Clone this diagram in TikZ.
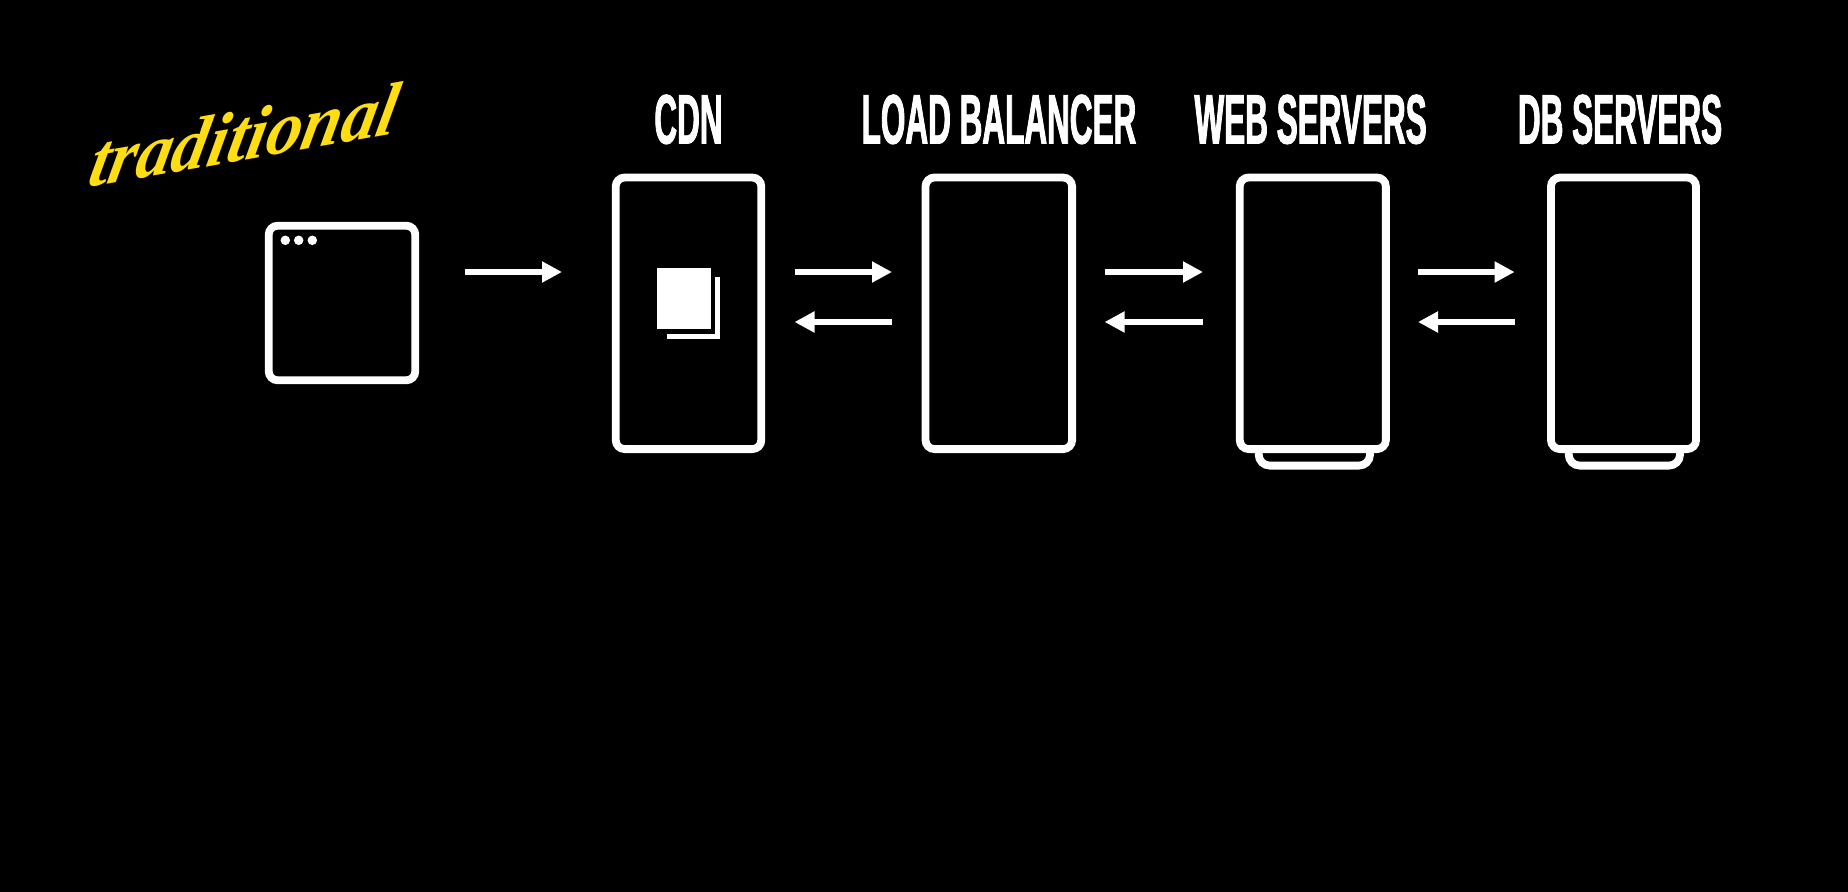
\documentclass[tikz,border=0pt]{standalone}
\usepackage{fontspec}
\usetikzlibrary{arrows.meta}
\newfontfamily\headfont[FakeStretch=0.45,FakeBold=1.2]{Liberation Sans}
\newfontfamily\tradfont[FakeSlant=0.4]{Liberation Serif}
\definecolor{tradyellow}{HTML}{FFDD14}
\tikzset{
  x=1pt,y=-1pt,
  panel/.style={draw=white,line width=7.8pt,rounded corners=9pt,inner sep=0pt,minimum width=#1,minimum height=271.6pt,fill=black},
  label/.style={text=white,anchor=base,inner sep=0pt,font=\headfont\bfseries\fontsize{70}{70}\selectfont},
  flow/.style={draw=white,line width=5.4pt,-{Triangle[length=20pt,width=20pt]}},
  foot/.style={draw=white,line width=7.8pt,rounded corners=11pt},
  sheet/.style={fill=white,draw=none,minimum width=54pt,minimum height=61pt,inner sep=0pt},
  dot/.style={circle,fill=white,draw=none,minimum size=9.5pt,inner sep=0pt}
}
\begin{document}
\begin{tikzpicture}
\useasboundingbox (0,0) rectangle (1848,891.4);
\fill[black] (-5,-5) rectangle (1853,897);

\node[anchor=base west,rotate=10,inner sep=0pt,text=tradyellow,font=\tradfont\bfseries\itshape\fontsize{72}{72}\selectfont] (trad) at (86,188) {traditional};

% browser
\node[draw=white,line width=7.8pt,rounded corners=9pt,inner sep=0pt,minimum width=146.6pt,minimum height=154.6pt] (browser) at (342,303) {};
\node[dot] (d1) at (285.3,240.3) {};
\node[dot] (d2) at (298.7,240.3) {};
\node[dot] (d3) at (312.3,240.3) {};

% feet
\coordinate (wf1) at (1258.7,450);
\coordinate (wf2) at (1258.7,465.6);
\coordinate (wf3) at (1370,465.6);
\coordinate (wf4) at (1370,450);
\draw[foot] (wf1) -- (wf2) -- (wf3) -- (wf4);
\coordinate (df1) at (1568.7,450);
\coordinate (df2) at (1568.7,465.6);
\coordinate (df3) at (1680,465.6);
\coordinate (df4) at (1680,450);
\draw[foot] (df1) -- (df2) -- (df3) -- (df4);

% panels
\node[panel=145.6pt] (cdn) at (688.5,313.3) {};
\node[panel=146.6pt] (lb) at (998.8,313.3) {};
\node[panel=146.1pt] (web) at (1312.8,313.3) {};
\node[panel=145.1pt] (db) at (1623.5,313.3) {};

% labels
\node[label] (lcdn) at (688.5,143.5) {CDN};
\node[label] (llb) at (999,143.5) {LOAD BALANCER};
\node[label] (lweb) at (1310.6,143.5) {WEB SERVERS};
\node[label] (ldb) at (1620,143.5) {DB SERVERS};

% document icon
\coordinate (bk1) at (667,336.5);
\coordinate (bk2) at (717.7,336.5);
\coordinate (bk3) at (717.7,277);
\draw[white,line width=5pt] (bk1) -- (bk2) -- (bk3);
\node[sheet] (doc) at (683.6,298.5) {};

% arrows
\coordinate (a1s) at (464.5,272); \coordinate (a1e) at (562,272);
\coordinate (a2s) at (794.5,272); \coordinate (a2e) at (892,272);
\coordinate (a3s) at (892,322);   \coordinate (a3e) at (794.5,322);
\coordinate (a4s) at (1104.6,272);\coordinate (a4e) at (1203,272);
\coordinate (a5s) at (1203,322);  \coordinate (a5e) at (1104.6,322);
\coordinate (a6s) at (1418,272);  \coordinate (a6e) at (1514.6,272);
\coordinate (a7s) at (1514.6,322);\coordinate (a7e) at (1418,322);
\foreach \s/\e in {a1s/a1e,a2s/a2e,a3s/a3e,a4s/a4e,a5s/a5e,a6s/a6e,a7s/a7e}
  \draw[flow] (\s) -- (\e);
\end{tikzpicture}
\end{document}
